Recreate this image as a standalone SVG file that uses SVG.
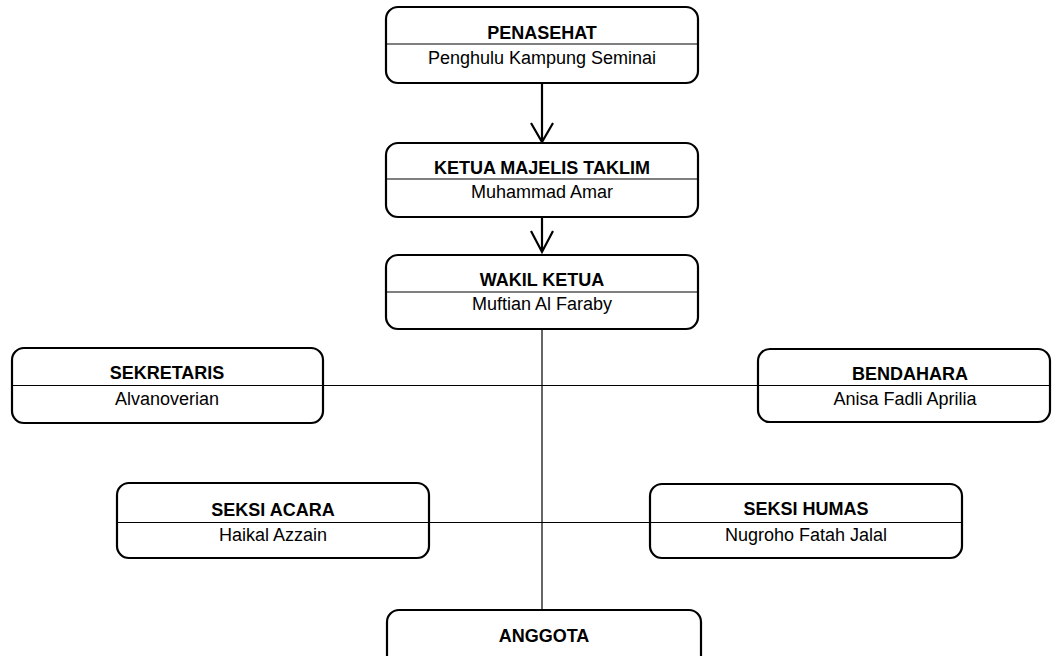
<svg xmlns="http://www.w3.org/2000/svg" width="1063" height="656" viewBox="0 0 1063 656">
<style>
.box{fill:#fff;stroke:#000;stroke-width:2.2}
.div{stroke:#000;stroke-width:1.2}
.ln{stroke:#000;stroke-width:1.2;fill:none}
.arr{stroke:#000;stroke-width:2.2;fill:none}
.t{font-family:"Liberation Sans",Arial,sans-serif;font-size:18px;font-weight:bold;text-anchor:middle;fill:#000}
.n{font-family:"Liberation Sans",Arial,sans-serif;font-size:18px;text-anchor:middle;fill:#000}
</style>
<rect width="1063" height="656" fill="#fff"/>
<g id="connectors">
<path class="arr" d="M542 83 V141 M531 123 L542 142 L553 123"/>
<path class="arr" d="M542 217 V251 M531 231 L542 252 L553 231"/>
<path class="ln" d="M542 329 V610"/>
</g>
<g id="penasehat">
<rect class="box" x="386" y="7" width="312" height="76" rx="12"/>
<line class="div" x1="386" y1="44" x2="698" y2="44"/>
<text class="t" x="542" y="39">PENASEHAT</text>
<text class="n" x="542" y="64">Penghulu Kampung Seminai</text>
</g>
<g id="ketua">
<rect class="box" x="386" y="143" width="312" height="74" rx="12"/>
<line class="div" x1="386" y1="179" x2="698" y2="179"/>
<text class="t" x="542" y="174">KETUA MAJELIS TAKLIM</text>
<text class="n" x="542" y="198">Muhammad Amar</text>
</g>
<g id="wakil">
<rect class="box" x="386" y="255" width="312" height="74" rx="12"/>
<line class="div" x1="386" y1="292" x2="698" y2="292"/>
<text class="t" x="542" y="286">WAKIL KETUA</text>
<text class="n" x="542" y="310">Muftian Al Faraby</text>
</g>
<g id="sekretaris">
<rect class="box" x="12" y="348" width="311" height="75" rx="12"/>
<text class="t" x="167" y="379">SEKRETARIS</text>
<text class="n" x="167" y="405">Alvanoverian</text>
</g>
<g id="bendahara">
<rect class="box" x="758" y="349" width="292" height="73" rx="12"/>
<text class="t" x="910" y="380">BENDAHARA</text>
<text class="n" x="905" y="405">Anisa Fadli Aprilia</text>
</g>
<g id="seksi-acara">
<rect class="box" x="117" y="483" width="312" height="75" rx="12"/>
<text class="t" x="273" y="516">SEKSI ACARA</text>
<text class="n" x="273" y="541">Haikal Azzain</text>
</g>
<g id="seksi-humas">
<rect class="box" x="650" y="484" width="312" height="74" rx="12"/>
<text class="t" x="806" y="515">SEKSI HUMAS</text>
<text class="n" x="806" y="541">Nugroho Fatah Jalal</text>
</g>
<g id="anggota">
<rect class="box" x="387" y="610" width="314" height="60" rx="12"/>
<text class="t" x="544" y="642">ANGGOTA</text>
</g>
<g id="connectors-horizontal">
<line class="ln" x1="12" y1="385.5" x2="1050" y2="385.5"/>
<line class="ln" x1="117" y1="522.5" x2="962" y2="522.5"/>
</g>
</svg>
